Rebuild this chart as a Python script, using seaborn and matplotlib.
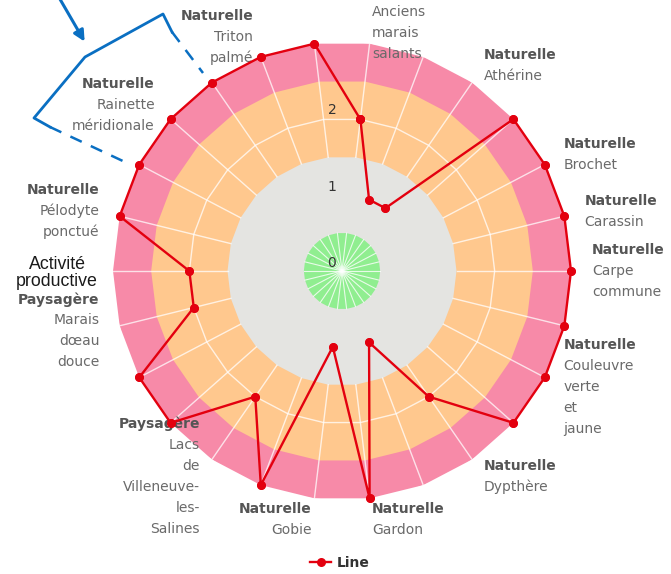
import matplotlib
matplotlib.use("Agg")
import matplotlib.pyplot as plt
import numpy as np
import pandas as pd
import seaborn as sns
from matplotlib.lines import Line2D
from matplotlib.patches import FancyArrowPatch

# categories (26 rayons, seuls certains ont une etiquette)
groupes = ["", "", "Naturelle", "", "Naturelle", "Naturelle", "Naturelle", "",
           "Naturelle", "", "Naturelle", "", "Naturelle", "Naturelle", "", "Paysagère",
           "", "", "Paysagère", "", "Naturelle", "", "Naturelle", "", "Naturelle", ""]
noms = ["Anciens\nmarais\nsalants", "", "Athérine", "", "Brochet", "Carassin",
        "Carpe\ncommune", "", "Couleuvre\nverte\net\njaune", "", "Dypthère", "",
        "Gardon", "Gobie", "", "Lacs\nde\nVilleneuve-\nles-\nSalines", "", "",
        "Marais\ndœau\ndouce", "", "Pélodyte\nponctué", "", "Rainette\nméridionale",
        "", "Triton\npalmé", ""]
valeurs = [2, 1, 1, 3, 3, 3, 3, 3, 3, 3, 2, 1, 3, 1, 3, 2, 3, 3, 2, 2, 3, 3, 3, 3, 3, 3]
# texte ajoute a la main sur le rayon 19
note_index = 19
note_texte = "Activité\nproductive"

# bandes de fond (borne haute, couleur)
bandes_max = [3, 2.5, 1.5, 0.5]
bandes_couleurs = ["#F78AA8", "#FFC88E", "#E4E4E1", "#90EE90"]
ticks_r = [0, 1, 2]

plt.rcParams['font.family'] = ['DejaVu Sans']

n = len(valeurs)
theta = (np.arange(n) + 0.5) * 2 * np.pi / n
theta_ferme = np.append(theta, theta[0] + 2 * np.pi)

W, H = 671, 574
fig = plt.figure(figsize=(W / 100, H / 100), dpi=100)
cx, cy, R = 342, 271, 229
ax = fig.add_axes([(cx - R) / W, 1 - (cy + R) / H, 2 * R / W, 2 * R / H], projection='polar')
ax.set_theta_zero_location('N')
ax.set_theta_direction(-1)
ax.set_ylim(0, 3)
ax.axis('off')

# bandes polygonales
for rmax, coul in zip(bandes_max, bandes_couleurs):
    ax.fill(theta_ferme, np.full(n + 1, rmax), color=coul, lw=0, zorder=1)

# rayons blancs
for t in theta:
    ax.plot([t, t], [1.5, 3], color='white', lw=1, alpha=0.75, zorder=2)
    ax.plot([t, t], [0, 0.5], color='white', lw=0.8, alpha=0.8, zorder=2)
ax.plot(theta_ferme, np.full(n + 1, 2), color='white', lw=1, alpha=0.75, zorder=2)

# serie
df = pd.DataFrame({"theta": theta_ferme, "valeur": valeurs + [valeurs[0]]})
sns.lineplot(data=df, x="theta", y="valeur", sort=False, estimator=None, ax=ax,
             color="#E3000F", lw=1.7, marker='o', markersize=6.5, markeredgewidth=0,
             label="Line", zorder=5, clip_on=False)
sns.scatterplot(data=df, x="theta", y="valeur", ax=ax, color="#E3000F", s=38,
                linewidth=0, zorder=6, legend=False, clip_on=False)

# etiquettes radiales
for v in ticks_r:
    ax.annotate(str(v), xy=(0, v), xytext=(-10, 8), textcoords='offset pixels',
                ha='center', va='center', fontsize=10, color='#333333', zorder=7)

# etiquettes des categories
h = 21
for i, (g, nm) in enumerate(zip(groupes, noms)):
    if not nm:
        continue
    lignes = nm.split("\n")
    t = theta[i]
    ha = 'left' if np.sin(t) > 0 else 'right'
    ox, oy = 21 * np.sin(t), 21 * np.cos(t)
    nl = len(lignes) + 1
    for j, ligne in enumerate([g] + lignes):
        if not ligne:
            continue
        dy = ((nl - 1) / 2 - j) * h
        ax.annotate(ligne, xy=(t, 3), xytext=(ox, oy + dy), textcoords='offset pixels',
                    ha=ha, va='center', fontsize=10,
                    fontweight='bold' if j == 0 else 'normal',
                    color='#555555' if j == 0 else '#6a6a6a', annotation_clip=False)

t = theta[note_index]
ax.annotate(note_texte, xy=(t, 3), xytext=(16 * np.sin(t) + 1, 16 * np.cos(t) - 2),
            textcoords='offset pixels', ha='right', va='center', multialignment='center',
            fontsize=12.8, family=['Liberation Sans', 'DejaVu Sans'], color='#1a1a1a',
            linespacing=1.0, annotation_clip=False)

# legende
ax.legend(loc='center', bbox_to_anchor=(340 / W, 1 - 563 / H), bbox_transform=fig.transFigure,
          frameon=False, handlelength=1.5, handletextpad=0.4,
          prop={'weight': 'bold', 'size': 10}, labelcolor='#333333')

# annotation bleue
def px(p):
    return (p[0] / W, 1 - p[1] / H)

bleu = '#0A6FC2'
fig.patches.append(FancyArrowPatch(px((57, -6)), px((86, 44)), transform=fig.transFigure,
                                   arrowstyle='-|>', mutation_scale=16, color=bleu, lw=2.2))
trait = [(172, 32), (163, 14), (85, 57), (34, 118), (50, 127)]
fig.add_artist(Line2D([px(p)[0] for p in trait], [px(p)[1] for p in trait],
                      transform=fig.transFigure, color=bleu, lw=2))
for a, b in [((172, 32), (203, 73)), ((50, 127), (125, 162))]:
    fig.add_artist(Line2D([px(a)[0], px(b)[0]], [px(a)[1], px(b)[1]],
                          transform=fig.transFigure, color=bleu, lw=1.8, dashes=(5, 4)))

fig.savefig("out.png", dpi=100, facecolor='white')
